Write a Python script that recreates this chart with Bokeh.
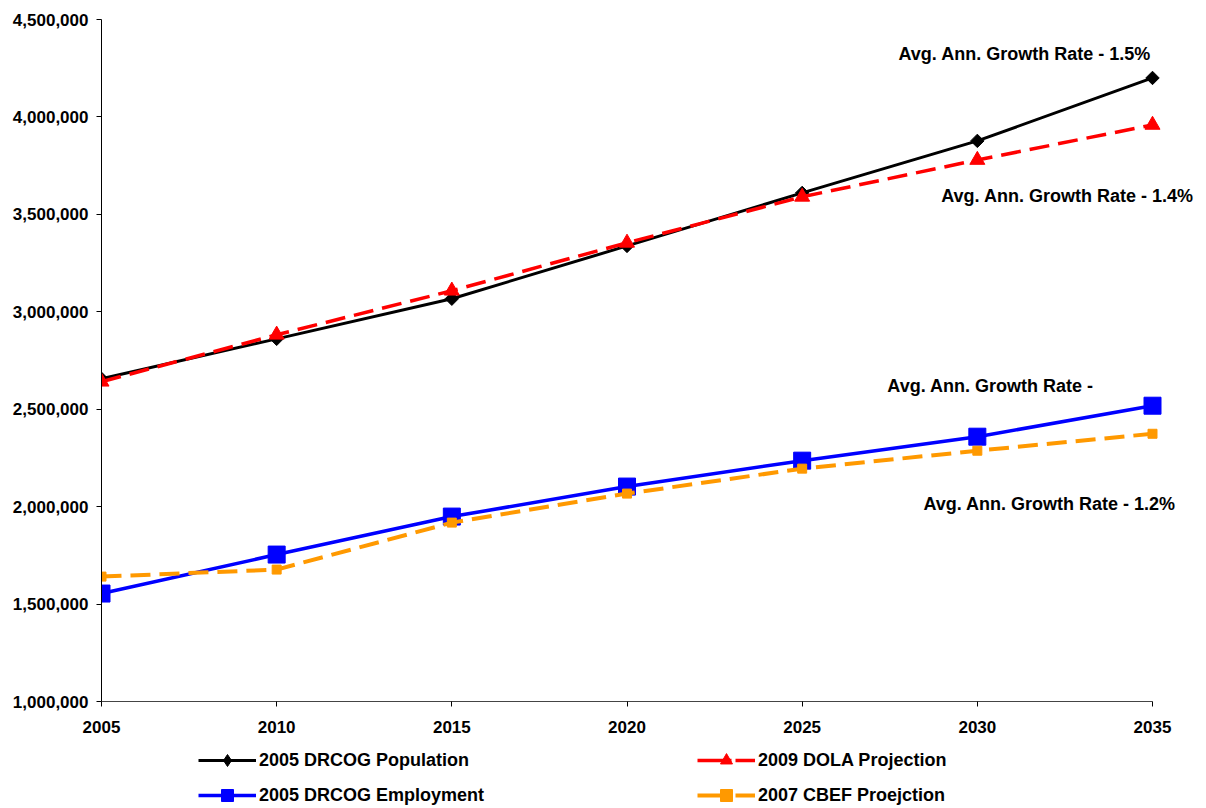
import math
from bokeh.plotting import figure
from bokeh.layouts import column
from bokeh.models import Range1d, FixedTicker, NumeralTickFormatter, Legend, LegendItem, Label
from bokeh.embed import file_html
from bokeh.resources import INLINE

# ---- data ----
years = [2005, 2010, 2015, 2020, 2025, 2030, 2035]
drcog_population = [2656000, 2861000, 3067000, 3338000, 3610000, 3877000, 4200000]
dola_projection = [2641000, 2882000, 3108000, 3354000, 3590000, 3779000, 3959000]
drcog_employment = [1554000, 1754000, 1949000, 2103000, 2236000, 2359000, 2518000]
cbef_projection = [1641000, 1677000, 1918000, 2067000, 2195000, 2287000, 2374000]

series_names = ["2005 DRCOG Population", "2009 DOLA Projection",
                "2005 DRCOG Employment", "2007 CBEF Proejction"]

y_ticks = [1000000, 1500000, 2000000, 2500000, 3000000, 3500000, 4000000, 4500000]
x_ticks = [2005, 2010, 2015, 2020, 2025, 2030, 2035]

note_texts = ["Avg. Ann. Growth Rate - 1.5%", "Avg. Ann. Growth Rate - 1.4%",
              "Avg. Ann. Growth Rate -", "Avg. Ann. Growth Rate - 1.2%"]
note_x = [2027.75, 2028.97, 2027.43, 2028.46]
note_y = [4323000, 3595000, 2620500, 2015000]

FONT = "Liberation Sans"

# styles: (color, width, dash, marker, size, angle, legend marker, legend dash)
styles = [
    ("black", 3, "solid", "square", 9.5, math.pi / 4, "diamond", "solid"),
    ("#FF0000", 3.5, "20 9", "triangle", 15, 0.0, "triangle", "34 4 20 9"),
    ("#0000FF", 3.5, "solid", "square", 17, 0.0, "square", "solid"),
    ("#FF9900", 4, "20 9", "square", 9, 0.0, "square", "34 4 20 9"),
]
series_values = [drcog_population, dola_projection, drcog_employment, cbef_projection]

# frame spans 2005..2035 over 1051 px; extra room on the right for the notes
x_end = 2005 + (1198 - 101) * 30 / 1051

p = figure(width=1198, height=746, output_backend="svg", toolbar_location=None,
           x_range=Range1d(2005, x_end), y_range=Range1d(1000000, 4500000),
           min_border_left=101, min_border_right=0, min_border_top=19, min_border_bottom=45)
p.outline_line_color = None
p.xgrid.visible = False
p.ygrid.visible = False

for ax in (p.xaxis[0], p.yaxis[0]):
    ax.major_label_text_font = FONT
    ax.major_label_text_font_size = "17px"
    ax.major_label_text_font_style = "bold"
    ax.major_label_text_color = "black"
    ax.axis_line_color = "black"
    ax.axis_line_width = 1
    ax.major_tick_line_color = "black"
    ax.major_tick_out = 5
    ax.major_tick_in = 0
    ax.minor_tick_out = 0
    ax.minor_tick_in = 0

p.xaxis.ticker = FixedTicker(ticks=x_ticks)
p.xaxis.bounds = (2005, 2035)
p.yaxis.ticker = FixedTicker(ticks=y_ticks)
p.yaxis.formatter = NumeralTickFormatter(format="0,0")
p.xaxis.major_label_standoff = 14
p.yaxis.major_label_standoff = 8
p.xaxis.axis_line_color = "#444444"

# ---- series ----
for vals, (c, w, d, m, s, a, lm, ld) in zip(series_values, styles):
    p.line(years, vals, line_color=c, line_width=w, line_dash=d)
    p.scatter(years, vals, marker=m, size=s, angle=a, fill_color=c, line_color=c)

# ---- annotations ----
for t, x, y in zip(note_texts, note_x, note_y):
    p.add_layout(Label(x=x, y=y, text=t, text_font=FONT, text_font_size="18px",
                       text_font_style="bold", text_color="black",
                       text_baseline="middle", text_align="left"))

# ---- legend strip (proxy glyphs sit outside the strip's visible range) ----
q = figure(width=1198, height=62, output_backend="svg", toolbar_location=None,
           x_range=Range1d(0, 1), y_range=Range1d(0, 1), x_axis_type=None, y_axis_type=None,
           min_border_left=0, min_border_right=0, min_border_top=0, min_border_bottom=0)
q.outline_line_color = None
q.xgrid.visible = False
q.ygrid.visible = False

items = []
for name, (c, w, d, m, s, a, lm, ld) in zip(series_names, styles):
    lr = q.line([-5, -4], [-5, -4], line_color=c, line_width=w, line_dash=ld)
    sr = q.scatter([-5], [-5], marker=lm, size=s, fill_color=c, line_color=c)
    items.append(LegendItem(label=name, renderers=[lr, sr]))

def add_legend(its, x):
    q.add_layout(Legend(items=its, location=(x, -2), orientation="vertical",
                        padding=0, margin=0, spacing=5, glyph_width=58, glyph_height=30,
                        label_height=30, label_standoff=3,
                        border_line_color=None, background_fill_alpha=0,
                        label_text_font=FONT, label_text_font_size="18px",
                        label_text_font_style="bold", label_text_color="black"), "center")

add_legend([items[0], items[2]], 97)
add_legend([items[1], items[3]], 596)

open("out.html", "w").write(file_html(column(p, q, spacing=0), INLINE))
